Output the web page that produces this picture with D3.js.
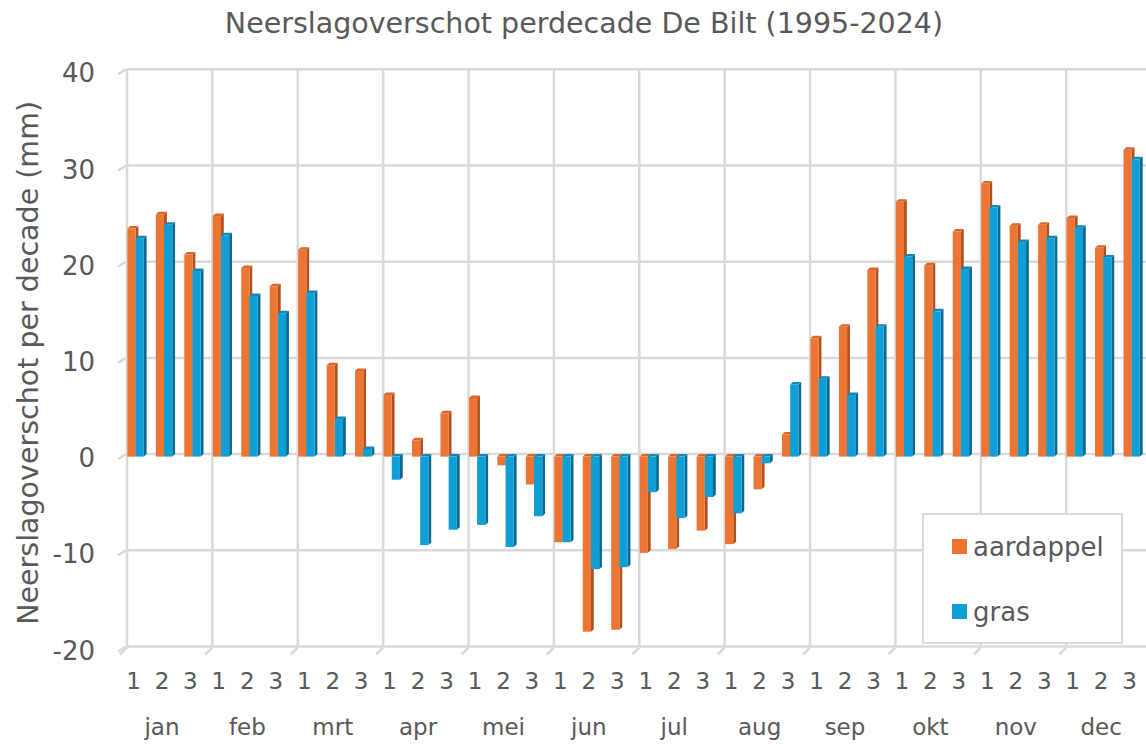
<!DOCTYPE html>
<html>
<head>
<meta charset="utf-8">
<script src="https://cdn.jsdelivr.net/npm/d3@7"></script>
<style>
  body { margin: 0; background: #fff; }
  svg { display: block; font-family: "DejaVu Sans", Verdana, sans-serif; }
</style>
</head>
<body>
<svg class="chart"></svg>
<script>
const months = ["jan", "feb", "mrt", "apr", "mei", "jun", "jul", "aug", "sep", "okt", "nov", "dec"];
const decades = ["1", "2", "3"];
const yTicks = [-20, -10, 0, 10, 20, 30, 40];

// neerslagoverschot per decade (mm), jan-1 .. dec-3
const aardappel = [
  23.7, 25.2, 21.0,  25.0, 19.6, 17.7,  21.5, 9.5, 8.9,
  6.4, 1.7, 4.5,     6.1, -0.9, -2.9,   -8.9, -18.2, -18.0,
  -10.0, -9.6, -7.7, -9.1, -3.4, 2.3,   12.3, 13.5, 19.4,
  26.5, 19.9, 23.4,  28.4, 24.0, 24.1,  24.8, 21.7, 31.9
];
const gras = [
  22.7, 24.1, 19.3,  23.0, 16.7, 14.9,  17.0, 3.9, 0.8,
  -2.4, -9.2, -7.6,  -7.1, -9.4, -6.2,  -8.9, -11.7, -11.5,
  -3.7, -6.4, -4.2,  -5.9, -0.7, 7.5,   8.1, 6.4, 13.5,
  20.8, 15.1, 19.5,  25.9, 22.3, 22.7,  23.8, 20.7, 30.9
];

const width = 1146;
const height = 744;
const textColor = "#595959";
const gridColor = "#d9d9d9";

const categories = months.flatMap(m => decades.map(d => `${m}-${d}`));

const series = [
  { name: "aardappel", values: aardappel, front: "#ec7533", side: "#b0501f", top: "#d9672b" },
  { name: "gras", values: gras, front: "#0f9fd6", side: "#0a6990", top: "#0c88ba" }
];

const x = d3.scaleBand()
  .domain(categories)
  .range([127, 127 + 36 * 28.46]);

const y = d3.scaleLinear()
  .domain([-20, 40])
  .range([646.5, 69.3]);

const svg = d3.select("svg.chart")
  .attr("width", width)
  .attr("height", height)
  .attr("viewBox", `0 0 ${width} ${height}`);

// title
svg.append("text")
  .attr("x", 584)
  .attr("y", 33)
  .attr("text-anchor", "middle")
  .attr("fill", textColor)
  .style("font-size", "28.5px")
  .text("Neerslagoverschot perdecade De Bilt (1995-2024)");

// back wall grid
const grid = svg.append("g")
  .attr("stroke", gridColor)
  .attr("stroke-width", 2.5);

grid.selectAll("line.h")
  .data(yTicks)
  .join("line")
  .attr("class", "h")
  .attr("x1", 127)
  .attr("x2", width)
  .attr("y1", d => y(d))
  .attr("y2", d => y(d));

grid.selectAll("line.v")
  .data(months)
  .join("line")
  .attr("class", "v")
  .attr("x1", m => x(`${m}-1`))
  .attr("x2", m => x(`${m}-1`))
  .attr("y1", y(40))
  .attr("y2", y(-20));

// slanted tick marks (3D axis)
grid.selectAll("line.yt")
  .data(yTicks)
  .join("line")
  .attr("class", "yt")
  .attr("x1", 118)
  .attr("x2", 126)
  .attr("y1", d => y(d) + 5)
  .attr("y2", d => y(d));

grid.selectAll("line.xt")
  .data(months)
  .join("line")
  .attr("class", "xt")
  .attr("x1", m => x(`${m}-1`))
  .attr("x2", m => x(`${m}-1`) - 7)
  .attr("y1", y(-20) + 1)
  .attr("y2", y(-20) + 8);

// y axis labels
svg.append("g")
  .attr("fill", textColor)
  .attr("text-anchor", "end")
  .style("font-size", "26px")
  .selectAll("text")
  .data(yTicks)
  .join("text")
  .attr("x", 95)
  .attr("y", d => y(d) + 4)
  .attr("dy", "0.35em")
  .text(d => d);

svg.append("text")
  .attr("transform", `translate(38,${(y(40) + y(-20)) / 2 + 5}) rotate(-90)`)
  .attr("text-anchor", "middle")
  .attr("fill", textColor)
  .style("font-size", "28.5px")
  .text("Neerslagoverschot per decade (mm)");

// 3D columns
const barW = 8.2;
const dx = 2.8;
const dy = 2.5;
const shiftY = 2.5;

const bars = svg.append("g").attr("transform", `translate(0,${shiftY})`);

categories.forEach((c, i) => {
  series.forEach((s, j) => {
    const v = s.values[i];
    const x0 = x(c) + 0.4 + j * barW;
    const x1 = x0 + barW;
    const yTop = y(Math.max(0, v));
    const yBot = y(Math.min(0, v));
    const g = bars.append("g");
    g.append("path")
      .attr("fill", s.side)
      .attr("d", `M${x1},${yTop}L${x1 + dx},${yTop - dy}L${x1 + dx},${yBot - dy}L${x1},${yBot}Z`);
    g.append("path")
      .attr("fill", s.top)
      .attr("d", `M${x0},${yTop}L${x0 + dx},${yTop - dy}L${x1 + dx},${yTop - dy}L${x1},${yTop}Z`);
    g.append("rect")
      .attr("fill", s.front)
      .attr("x", x0)
      .attr("y", yTop)
      .attr("width", barW)
      .attr("height", Math.max(0.5, yBot - yTop))
      .append("title")
      .text(`${s.name} ${c}: ${v}`);
  });
});

// x axis labels
svg.append("g")
  .attr("fill", textColor)
  .attr("text-anchor", "middle")
  .style("font-size", "23px")
  .selectAll("text")
  .data(categories)
  .join("text")
  .attr("x", c => x(c) + 6.5)
  .attr("y", 689)
  .text(c => c.split("-")[1]);

svg.append("g")
  .attr("fill", textColor)
  .attr("text-anchor", "middle")
  .style("font-size", "23px")
  .selectAll("text")
  .data(months)
  .join("text")
  .attr("x", m => x(`${m}-2`) + 6.5)
  .attr("y", 735)
  .text(m => m);

// legend
const legend = svg.append("g");
legend.append("rect")
  .attr("x", 923)
  .attr("y", 514)
  .attr("width", 199)
  .attr("height", 129)
  .attr("fill", "#fff")
  .attr("stroke", gridColor)
  .attr("stroke-width", 2);

series.forEach((s, j) => {
  const ly = 539 + j * 65;
  legend.append("rect")
    .attr("x", 952)
    .attr("y", ly)
    .attr("width", 15)
    .attr("height", 15)
    .attr("fill", s.front);
  legend.append("text")
    .attr("x", 973)
    .attr("y", ly + 17)
    .attr("fill", textColor)
    .style("font-size", "26px")
    .text(s.name);
});
</script>
</body>
</html>
